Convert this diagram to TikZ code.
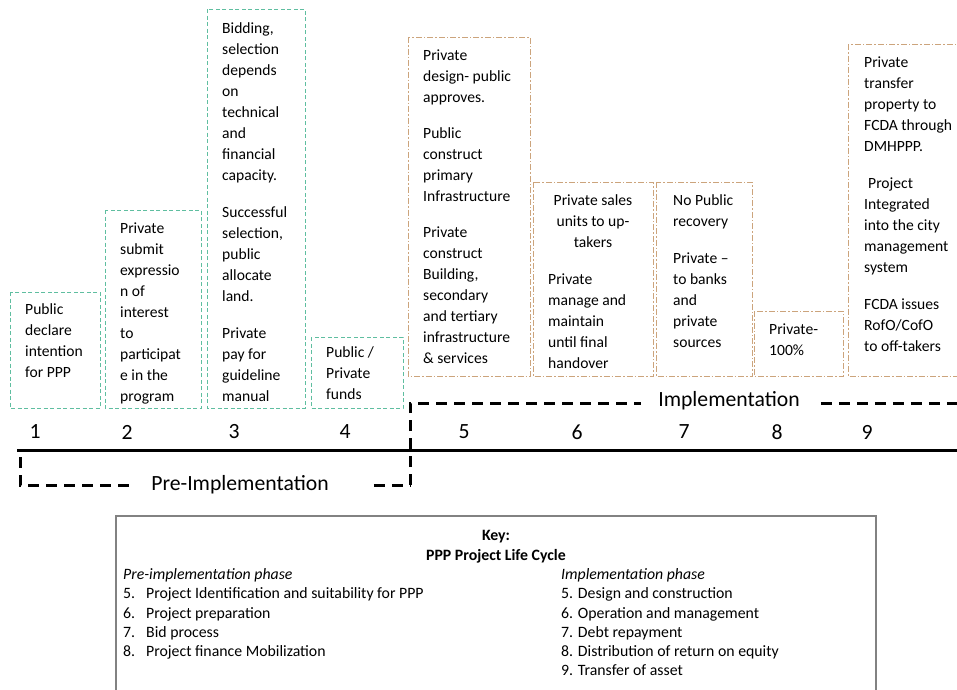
\documentclass[tikz,border=0pt]{standalone}
\usepackage{fontspec}
\setmainfont{Carlito}
\usepackage{xcolor}
\usepackage{tikz}
\definecolor{pregreen}{RGB}{95,190,160}
\definecolor{impltan}{RGB}{204,164,124}
\definecolor{keygray}{RGB}{130,130,130}
\newcommand\bxfont{\fontsize{15.6}{21}\selectfont}
\newcommand\kyfont{\fontsize{15.8}{19.3}\selectfont}
\newcommand\bgfont{\fontsize{21.7}{26}\selectfont}

\begin{document}
\begin{tikzpicture}[x=1pt,y=-1pt]
	\tikzstyle{prebox}=[draw=pregreen,line width=1pt,dash pattern=on 4pt off 2.5pt]
	\tikzstyle{implbox}=[draw=impltan,line width=0.9pt,dash pattern=on 6pt off 2pt on 1.5pt off 2pt]
	\tikzstyle{boxtext}=[anchor=north west,inner sep=0pt,align=left,font=\bxfont]
	\tikzstyle{phase}=[line width=3pt,dash pattern=on 11pt off 7pt]
	\tikzstyle{phasetext}=[font=\bgfont,anchor=base,inner sep=0pt]
	\useasboundingbox (0,0) rectangle (957,689);
	% pre-implementation steps
	\draw[prebox] (10,292) rectangle (100,408);
	\draw[prebox] (105,210) rectangle (201,408);
	\draw[prebox] (207,9) rectangle (305,408);
	\draw[prebox] (311,337) rectangle (403,408);
	\node[boxtext] (declare) at (25,299.4) {\strut Public\\declare\\intention\\for PPP};
	\begin{scope}
		\clip (105,210) rectangle (201,407);
		\node[boxtext] (submit) at (120,218.4) {\strut Private\\submit\\expressio\\n of\\interest\\to\\participat\\e in the\\program};
	\end{scope}
	\node[boxtext] (bidding) at (222,18.4) {\strut Bidding,\\selection\\depends\\on\\technical\\and\\financial\\capacity.\\[16pt]Successful\\selection,\\public\\allocate\\land.\\[16pt]Private\\pay for\\guideline\\manual};
	\node[boxtext] (funds) at (326,342.4) {\strut Public /\\Private\\funds};
	% implementation steps
	\draw[implbox] (408,37) rectangle (530,376);
	\draw[implbox] (533,182) rectangle (653,376);
	\draw[implbox] (656,182) rectangle (752,376);
	\draw[implbox] (754,311) rectangle (843,376);
	\draw[implbox] (848,44) rectangle (965,376);
	\node[boxtext] (design) at (423,45.4) {\strut Private\\design- public\\approves.\\[15pt]Public\\construct\\primary\\Infrastructure\\[15pt]Private\\construct\\Building,\\secondary\\and tertiary\\infrastructure\\\& services};
	\node[boxtext,anchor=north,align=center] (sales) at (593,190.4) {\strut Private sales\\units to up-\\takers};
	\node[boxtext] (manage) at (548,269.4) {\strut Private\\manage and\\maintain\\until final\\handover};
	\node[boxtext] (recovery) at (673,190.4) {\strut No Public\\recovery\\[16pt]Private --\\to banks\\and\\private\\sources};
	\node[boxtext] (equity) at (769,319.4) {\strut Private-\\100\%};
	\node[boxtext] (transfer) at (864,52.4) {\strut Private\\transfer\\property to\\FCDA through\\DMHPPP.\\[16pt]\hspace{4pt}Project\\Integrated\\into the city\\management\\system\\[16pt]FCDA issues\\RofO/CofO\\to off-takers};
	% time line
	\foreach \n/\x in {1/35,2/127,3/234,4/345,5/464,6/577,7/684,8/777,9/867}
		\node[font=\bgfont] (num\n) at (\x,432) {\n};
	\draw[line width=3pt] (17,450) -- (957,450);
	% phases
	\node[phasetext] (impl) at (729,406) {Implementation};
	\coordinate (implcorner) at (410,403);
	\draw[phase] (410,485) -- (implcorner) -- ([xshift=-17pt]impl.west |- implcorner);
	\draw[phase] ([xshift=21pt]impl.east |- implcorner) -- (960,403);
	\node[phasetext] (pre) at (240,490) {Pre-Implementation};
	\coordinate (precorner) at (20,485);
	\draw[phase] (20,457) -- (precorner) -- ([xshift=-17pt]pre.west |- precorner);
	\draw[phase] ([xshift=45pt]pre.east |- precorner) -- (410,485);
	% key
	\draw[keygray,line width=1.3pt] (116,695) -- (116,516) -- (876,516) -- (876,695);
	\node[font=\kyfont\bfseries,anchor=base] (key) at (496,540) {Key:};
	\node[font=\kyfont\bfseries,anchor=base] (cycle) at (496,560) {PPP Project Life Cycle};
	\node[boxtext,font=\kyfont] (prelist) at (123,565.7) {\strut\textit{Pre-implementation phase}\\\makebox[23pt][l]{5.}Project Identification and suitability for PPP\\\makebox[23pt][l]{6.}Project preparation\\\makebox[23pt][l]{7.}Bid process\\\makebox[23pt][l]{8.}Project finance Mobilization};
	\node[boxtext,font=\kyfont] (impllist) at (561,565.7) {\strut\textit{Implementation phase}\\5. Design and construction\\6. Operation and management\\7. Debt repayment\\8. Distribution of return on equity\\9. Transfer of asset};
\end{tikzpicture}
\end{document}
